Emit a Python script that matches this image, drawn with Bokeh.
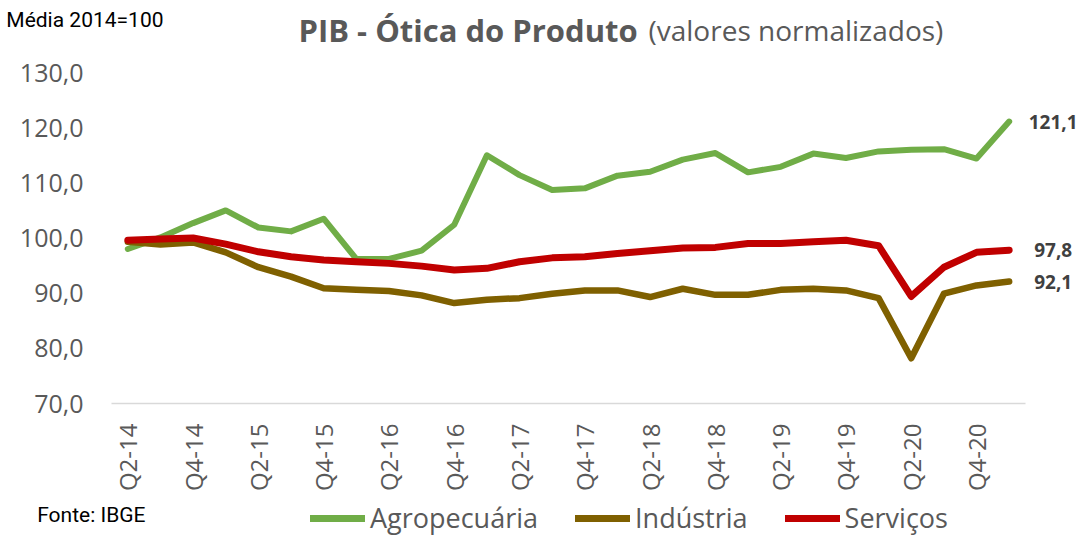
from bokeh.plotting import figure
from bokeh.models import (Range1d, FixedTicker, Legend, LegendItem,
                          ColumnDataSource)
from bokeh.layouts import column
from bokeh.core.properties import value
from bokeh.embed import file_html
from bokeh.resources import INLINE
import math

quarters = ["Q2-14", "Q3-14", "Q4-14",
            "Q1-15", "Q2-15", "Q3-15", "Q4-15",
            "Q1-16", "Q2-16", "Q3-16", "Q4-16",
            "Q1-17", "Q2-17", "Q3-17", "Q4-17",
            "Q1-18", "Q2-18", "Q3-18", "Q4-18",
            "Q1-19", "Q2-19", "Q3-19", "Q4-19",
            "Q1-20", "Q2-20", "Q3-20", "Q4-20",
            "Q1-21"]

agropecuaria = [98.0, 100.1, 102.7, 105.0, 101.9, 101.2, 103.5, 96.2, 96.2, 97.7,
                102.4, 115.0, 111.4, 108.7, 109.0, 111.3, 112.0, 114.2, 115.4, 111.9,
                112.9, 115.3, 114.5, 115.7, 116.0, 116.1, 114.4, 121.1]
industria = [99.3, 98.8, 99.2, 97.4, 94.7, 93.0, 90.9, 90.6, 90.4, 89.6,
             88.2, 88.8, 89.1, 89.9, 90.5, 90.5, 89.3, 90.8, 89.7, 89.7,
             90.6, 90.8, 90.5, 89.1, 78.2, 89.9, 91.4, 92.1]
servicos = [99.6, 99.8, 100.0, 98.9, 97.5, 96.6, 96.0, 95.7, 95.4, 94.9,
            94.2, 94.5, 95.7, 96.4, 96.6, 97.2, 97.7, 98.2, 98.3, 99.0,
            99.0, 99.3, 99.6, 98.6, 89.4, 94.7, 97.4, 97.8]

series_names = ["Agropecuária", "Indústria", "Serviços"]
series_colors = ["#70AD47", "#7F6000", "#C00000"]
series_widths = [6, 6.5, 7]
y_ticks = [70, 80, 90, 100, 110, 120, 130]

title_bold = "PIB - Ótica do Produto"
title_rest = "(valores normalizados)"
y_note = "Média 2014=100"
source_note = "Fonte: IBGE"

FONT = "Open Sans"
NOTE_FONT = "Roboto"
GRAY = "#595959"
W = 1081
LEFT = 111


def strip(h):
    """Header/footer strip: frame aligned with the chart, data units = pixels."""
    f = figure(width=W, height=h, output_backend="svg", toolbar_location=None,
               x_range=Range1d(LEFT, W), y_range=Range1d(0, h),
               x_axis_location=None, y_axis_location="left",
               min_border_left=LEFT, min_border_right=0,
               min_border_top=0, min_border_bottom=0)
    f.outline_line_color = None
    f.grid.visible = False
    ax = f.yaxis[0]
    ax.axis_line_color = None
    ax.major_tick_line_color = None
    ax.minor_tick_line_color = None
    ax.major_tick_out = 0
    ax.major_label_text_font = NOTE_FONT
    ax.major_label_text_font_size = "21px"
    ax.major_label_text_color = "black"
    return f


# ---------------- header ----------------
HH = 55
header = strip(HH)
header.yaxis[0].ticker = FixedTicker(ticks=[36])
header.yaxis[0].major_label_overrides = {36: y_note}
header.yaxis[0].major_label_standoff = -52
header.text(x=[298], y=[26], text=[title_bold], text_font=value(FONT),
            text_font_style="bold", text_font_size="31px", text_color=GRAY,
            text_baseline="middle")
header.text(x=[648], y=[26], text=[title_rest], text_font=value(FONT),
            text_font_size="28px", text_color=GRAY, text_baseline="middle")

# ---------------- main chart ----------------
x = list(range(len(quarters)))
p = figure(width=W, height=445, output_backend="svg", toolbar_location=None,
           x_range=Range1d(-0.5, len(quarters) + 1.216), y_range=Range1d(70, 130),
           min_border_left=LEFT, min_border_right=0, min_border_top=17,
           min_border_bottom=97)
p.outline_line_color = None
p.grid.visible = False

for vals, col, w in zip([agropecuaria, industria, servicos],
                        series_colors, series_widths):
    p.line(x, vals, line_color=col, line_width=w,
           line_cap="round", line_join="round")

xa = p.xaxis[0]
xa.bounds = (-0.5, len(quarters) - 0.5)
xa.ticker = FixedTicker(ticks=x[::2])
xa.major_label_overrides = {i: quarters[i] for i in x}
xa.major_label_orientation = math.pi / 2
xa.major_label_text_font = FONT
xa.major_label_text_font_size = "24px"
xa.major_label_text_color = GRAY
xa.major_tick_line_color = None
xa.minor_tick_line_color = None
xa.major_tick_out = 0
xa.major_label_standoff = 20
xa.axis_line_color = "#D9D9D9"
xa.axis_line_width = 1.5

ya = p.yaxis[0]
ya.ticker = FixedTicker(ticks=y_ticks)
ya.major_label_overrides = {t: f"{t:.1f}".replace(".", ",") for t in y_ticks}
ya.major_label_text_font = FONT
ya.major_label_text_font_size = "25px"
ya.major_label_text_color = GRAY
ya.major_tick_line_color = None
ya.minor_tick_line_color = None
ya.major_tick_out = 0
ya.axis_line_color = None
ya.major_label_standoff = 28

last_vals = [agropecuaria[-1], industria[-1], servicos[-1]]
end_src = ColumnDataSource(dict(
    x=[x[-1]] * 3, y=last_vals,
    t=[f"{v:.1f}".replace(".", ",") for v in last_vals]))
p.text(x="x", y="y", text="t", source=end_src, x_offset=44,
       text_align="center", text_baseline="middle",
       text_font=value(FONT), text_font_style="bold",
       text_font_size="19px", text_color="#404040")

# ---------------- footer ----------------
FH = 38
footer = strip(FH)
footer.yaxis[0].ticker = FixedTicker(ticks=[24])
footer.yaxis[0].major_label_overrides = {24: source_note}
footer.yaxis[0].major_label_standoff = -34
# legend swatches: same series, outside this strip's visible ranges
leg_r = [footer.line(x, vals, line_color=c, line_width=7, line_cap="round")
         for vals, c in zip([agropecuaria, industria, servicos], series_colors)]
legend = Legend(items=[LegendItem(label=n, renderers=[r])
                       for n, r in zip(series_names, leg_r)],
                orientation="horizontal", location=(199, 2),
                glyph_width=55, glyph_height=20, label_height=20,
                label_standoff=5, spacing=37, padding=0, margin=0,
                label_text_font=FONT, label_text_font_size="27px",
                label_text_color=GRAY, border_line_color=None,
                background_fill_alpha=0)
footer.add_layout(legend)

layout = column(header, p, footer, spacing=0)
open("out.html", "w").write(file_html(layout, INLINE))
